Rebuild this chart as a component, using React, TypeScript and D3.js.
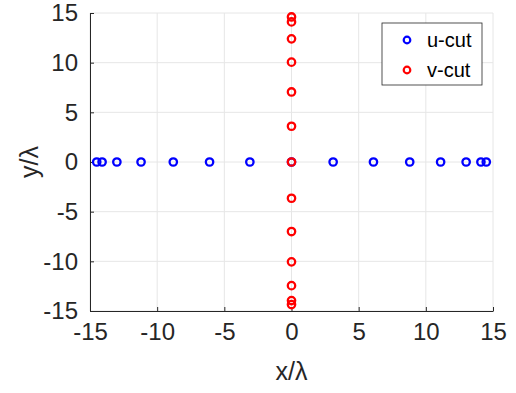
import React, { useEffect, useRef } from 'react';
import * as d3 from 'd3';

const uCutX = [-14.5, -14.1, -13.0, -11.2, -8.8, -6.1, -3.1, 0, 3.1, 6.1, 8.8, 11.1, 13.0, 14.1, 14.5];
const vCutY = [14.6, 14.1, 12.4, 10.05, 7.05, 3.6, 0, -3.65, -7.0, -10.05, -12.45, -13.95, -14.35];
const ticks = [-15, -10, -5, 0, 5, 10, 15];
const series = [
  { name: 'u-cut', color: '#0000ff' },
  { name: 'v-cut', color: '#ff0000' },
];

const W = 516;
const H = 393;
const margin = { top: 13, right: 23, bottom: 82, left: 90 };

const App = () => {
  const svgRef = useRef<SVGSVGElement>(null);

  useEffect(() => {
    const svg = d3.select(svgRef.current);
    svg.selectAll('*').remove();

    const x = d3.scaleLinear().domain([-15, 15]).range([margin.left, W - margin.right]);
    const y = d3.scaleLinear().domain([-15, 15]).range([H - margin.bottom, margin.top]);
    const font = 'Arial, "Liberation Sans", sans-serif';
    const textColor = '#262626';
    const fmt = (d: number) => String(d);

    // grid
    const grid = svg.append('g');
    grid.selectAll('line.gx').data(ticks).enter().append('line')
      .attr('x1', d => x(d)).attr('x2', d => x(d))
      .attr('y1', y(-15)).attr('y2', y(15))
      .attr('stroke', '#e6e6e6').attr('stroke-width', 1);
    grid.selectAll('line.gy').data(ticks).enter().append('line')
      .attr('y1', d => y(d)).attr('y2', d => y(d))
      .attr('x1', x(-15)).attr('x2', x(15))
      .attr('stroke', '#e6e6e6').attr('stroke-width', 1);

    // axes
    const xAxis = svg.append('g')
      .attr('transform', `translate(0,${y(-15)})`)
      .call(d3.axisBottom(x).tickValues(ticks).tickFormat(fmt).tickSizeInner(-4).tickSizeOuter(0).tickPadding(21));
    const yAxis = svg.append('g')
      .attr('transform', `translate(${x(-15)},0)`)
      .call(d3.axisLeft(y).tickValues(ticks).tickFormat(fmt).tickSizeInner(-4).tickSizeOuter(0).tickPadding(12));
    [xAxis, yAxis].forEach(a => {
      a.select('.domain').attr('stroke', textColor).attr('stroke-width', 1);
      a.selectAll('.tick line').attr('stroke', textColor);
      a.selectAll('.tick text')
        .attr('fill', textColor)
        .style('font-family', font)
        .style('font-size', '24px');
    });
    xAxis.selectAll('.tick text').attr('dy', '0.35em');

    // axis labels
    svg.append('text')
      .attr('x', x(0)).attr('y', 380)
      .attr('text-anchor', 'middle')
      .attr('fill', textColor)
      .style('font-family', font).style('font-size', '25px')
      .text('x/λ');
    svg.append('text')
      .attr('transform', `translate(38,${y(0)}) rotate(-90)`)
      .attr('text-anchor', 'middle')
      .attr('fill', textColor)
      .style('font-family', font).style('font-size', '25px')
      .text('y/λ');

    // points
    svg.append('g').selectAll('circle').data(uCutX).enter().append('circle')
      .attr('cx', d => x(d)).attr('cy', y(0)).attr('r', 3.7)
      .attr('fill', 'none').attr('stroke', series[0].color).attr('stroke-width', 2.3);
    svg.append('g').selectAll('circle').data(vCutY).enter().append('circle')
      .attr('cx', x(0)).attr('cy', d => y(d)).attr('r', 3.7)
      .attr('fill', 'none').attr('stroke', series[1].color).attr('stroke-width', 2.3);

    // legend
    const lg = svg.append('g').attr('transform', 'translate(382,23)');
    lg.append('rect')
      .attr('width', 100).attr('height', 62)
      .attr('fill', '#fff').attr('stroke', '#262626').attr('stroke-width', 0.8);
    series.forEach((s, i) => {
      const row = lg.append('g').attr('transform', `translate(0,${17 + i * 30})`);
      row.append('circle').attr('cx', 25).attr('cy', 0).attr('r', 3.3)
        .attr('fill', 'none').attr('stroke', s.color).attr('stroke-width', 2.2);
      row.append('text').attr('x', 45).attr('y', 0).attr('dy', '0.35em')
        .attr('fill', '#000')
        .style('font-family', font).style('font-size', '20px')
        .text(s.name);
    });
  }, []);

  return (
    <div style={{ position: 'absolute', left: 0, top: 0, background: '#fff' }}>
      <svg ref={svgRef} width={W} height={H} />
    </div>
  );
};

export default App;
